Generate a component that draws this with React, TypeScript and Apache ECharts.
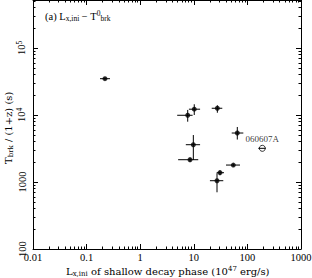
import React, { useEffect, useRef } from "react";
import * as echarts from "echarts";

// Luminosity (10^47 erg/s) and break time / (1+z) (s)
const lumX = [0.22, 7.7, 10.2, 27.5, 64.8, 9.8, 8.5, 54.6, 30.8, 27.1];
const lumLo = [0.178, 4.9, 8.1, 21.6, 51, 7.1, 5.1, 39.9, 26.7, 20];
const lumHi = [0.273, 9.5, 13.1, 34, 84, 13.1, 12.1, 72.8, 36.6, 35.5];
const tBrk = [34800, 9900, 12200, 12600, 5380, 3600, 2150, 1790, 1376, 1045];
const tLo = [33500, 7940, 10000, 10800, 4300, 2130, 2000, 1700, 1260, 702];
const tHi = [36500, 11900, 14450, 13960, 6620, 5020, 2320, 1880, 1500, 1350];

// Open point
const openName = ["060607A"];
const openX = [190];
const openXLo = [160];
const openXHi = [219];
const openY = [3180];

const xMin = 0.01;
const xMax = 1000;
const yMin = 100;
const yMaxLog = 5.716;
const xDecades = [-2, -1, 0, 1, 2];
const yDecades = [2, 3, 4, 5];
const minorMults = [2, 3, 4, 5, 6, 7, 8, 9];

const xTitle = "{m|L}{sub|x,ini}{m| of shallow decay phase (10}{sup|47}{m| erg/s)}";
const yTitle = "{m|T}{sub|brk}{m| / (1+z) (s)}";
const panelTitle = "{m|(a) L}{sub|x,ini}{m| \u2212 T}{sup|0}{sub|brk}";

const FONT = "Liberation Serif";
const TFONT = "DejaVu Serif";

export default function App() {
  const ref = useRef<HTMLDivElement>(null);
  useEffect(() => {
    if (!ref.current) return;
    const chart = echarts.init(ref.current, null, { renderer: "svg" });
    const xMinor: number[] = [];
    xDecades.forEach((d) => minorMults.forEach((mm) => xMinor.push(Math.log10(mm) + d)));
    const yMinor: number[] = [];
    yDecades.forEach((d) =>
      minorMults.forEach((mm) => {
        const v = Math.log10(mm) + d;
        if (v < yMaxLog) yMinor.push(v);
      })
    );
    const ls = { color: "#000", width: 1 };
    const gridRect = { left: 33, top: 0, width: 268, height: 249, containLabel: false, outerBoundsMode: "none" };
    const mk = (family: string, size: number, subSize: number) => ({
      m: { fontSize: size, fontFamily: family, color: "#000" },
      sub: { fontSize: subSize, fontFamily: family, color: "#000", padding: [5, 0, 0, 0] },
      sup: { fontSize: subSize, fontFamily: family, color: "#000", padding: [0, 0, 5, 0] },
    });
    const isDecade = (v: number) => Math.abs(Math.log10(v) - Math.round(Math.log10(v))) < 1e-6;

    const errData = lumX.map((x, i) => [x, tBrk[i], lumLo[i], lumHi[i], tLo[i], tHi[i]]);
    openX.forEach((x, i) => errData.push([x, openY[i], openXLo[i], openXHi[i], openY[i], openY[i]]));

    const majorX = (pos: string, labels: boolean) => ({
      type: "log",
      logBase: 10,
      gridIndex: 0,
      min: xMin,
      max: xMax,
      position: pos,
      axisLine: { show: true, onZero: false, lineStyle: ls },
      axisTick: { show: true, inside: true, length: 5, lineStyle: ls },
      axisLabel: {
        show: labels,
        margin: 3,
        fontSize: 10.5,
        fontFamily: FONT,
        color: "#000",
        formatter: (v: number) => {
          if (!isDecade(v)) return "";
          const e = Math.round(Math.log10(v));
          return e < 0 ? (e === -1 ? "0.1" : "0.01") : String(Math.pow(10, e));
        },
      },
      splitLine: { show: false },
    });
    const majorY = (pos: string, labels: boolean) => ({
      type: "log",
      logBase: 10,
      gridIndex: 0,
      min: yMin,
      max: Math.pow(10, yMaxLog),
      position: pos,
      axisLine: { show: true, onZero: false, lineStyle: ls },
      axisTick: { show: true, inside: true, length: 5, lineStyle: ls },
      axisLabel: {
        show: labels,
        showMaxLabel: false,
        rotate: 90,
        margin: 5,
        fontSize: 10.5,
        fontFamily: FONT,
        color: "#000",
        formatter: (v: number) => {
          if (!isDecade(v)) return "";
          const e = Math.round(Math.log10(v));
          return e >= 4 ? `{n|10}{sup|${e}}` : String(Math.pow(10, e));
        },
        rich: { n: { fontSize: 10.5, fontFamily: FONT, color: "#000" }, sup: mk(FONT, 10.5, 7.5).sup },
      },
      splitLine: { show: false },
    });
    const minorX = (pos: string) => ({
      type: "value",
      gridIndex: 1,
      min: -2,
      max: 3,
      position: pos,
      axisLine: { show: false, onZero: false },
      axisTick: { show: true, inside: true, length: 2.5, lineStyle: ls, customValues: xMinor },
      axisLabel: { show: false },
      splitLine: { show: false },
    });
    const minorY = (pos: string) => ({
      type: "value",
      gridIndex: 1,
      min: 2,
      max: yMaxLog,
      position: pos,
      axisLine: { show: false, onZero: false },
      axisTick: { show: true, inside: true, length: 2.5, lineStyle: ls, customValues: yMinor },
      axisLabel: { show: false },
      splitLine: { show: false },
    });

    chart.setOption({
      animation: false,
      backgroundColor: "#fff",
      grid: [{ ...gridRect }, { ...gridRect }],
      xAxis: [majorX("bottom", true), majorX("top", false), minorX("bottom"), minorX("top")],
      yAxis: [majorY("left", true), majorY("right", false), minorY("left"), minorY("right")],
      series: [
        {
          type: "custom",
          xAxisIndex: 0,
          yAxisIndex: 0,
          data: errData,
          encode: { x: 0, y: 1 },
          renderItem: (_p: any, api: any) => {
            const x = api.value(0);
            const y = api.value(1);
            const c = api.coord([x, y]);
            const l = api.coord([api.value(2), y]);
            const r = api.coord([api.value(3), y]);
            const b = api.coord([x, api.value(4)]);
            const t = api.coord([x, api.value(5)]);
            const st = { stroke: "#000", lineWidth: 1 };
            return {
              type: "group",
              children: [
                { type: "line", shape: { x1: l[0], y1: c[1], x2: r[0], y2: c[1] }, style: st },
                { type: "line", shape: { x1: c[0], y1: t[1], x2: c[0], y2: b[1] }, style: st },
              ],
            };
          },
          z: 2,
        },
        {
          type: "scatter",
          xAxisIndex: 0,
          yAxisIndex: 0,
          symbol: "circle",
          symbolSize: 5,
          itemStyle: { color: "#000" },
          data: lumX.map((x, i) => [x, tBrk[i]]),
          z: 3,
        },
        {
          type: "scatter",
          xAxisIndex: 0,
          yAxisIndex: 0,
          symbol: "circle",
          symbolSize: 6,
          itemStyle: { color: "rgba(0,0,0,0)", borderColor: "#000", borderWidth: 1 },
          label: {
            show: true,
            position: "top",
            distance: 1,
            fontSize: 9,
            fontFamily: FONT,
            color: "#000",
            formatter: (p: any) => openName[p.dataIndex],
          },
          data: openX.map((x, i) => [x, openY[i]]),
          z: 3,
        },
      ],
      graphic: [
        {
          type: "text",
          x: 45,
          y: 16,
          style: { text: panelTitle, align: "left", verticalAlign: "middle", rich: mk(FONT, 10.5, 7.5) },
        },
        {
          type: "text",
          x: 66,
          y: 271,
          style: { text: xTitle, align: "left", verticalAlign: "middle", rich: mk(TFONT, 10, 7) },
        },
        {
          type: "text",
          x: 8,
          y: 164,
          rotation: Math.PI / 2,
          style: { text: yTitle, align: "left", verticalAlign: "middle", rich: mk(TFONT, 10, 7) },
        },
      ],
    });
    return () => chart.dispose();
  }, []);
  return (
    <div
      ref={ref}
      style={{ position: "fixed", left: 0, top: 0, width: 312, height: 278 }}
    />
  );
}
